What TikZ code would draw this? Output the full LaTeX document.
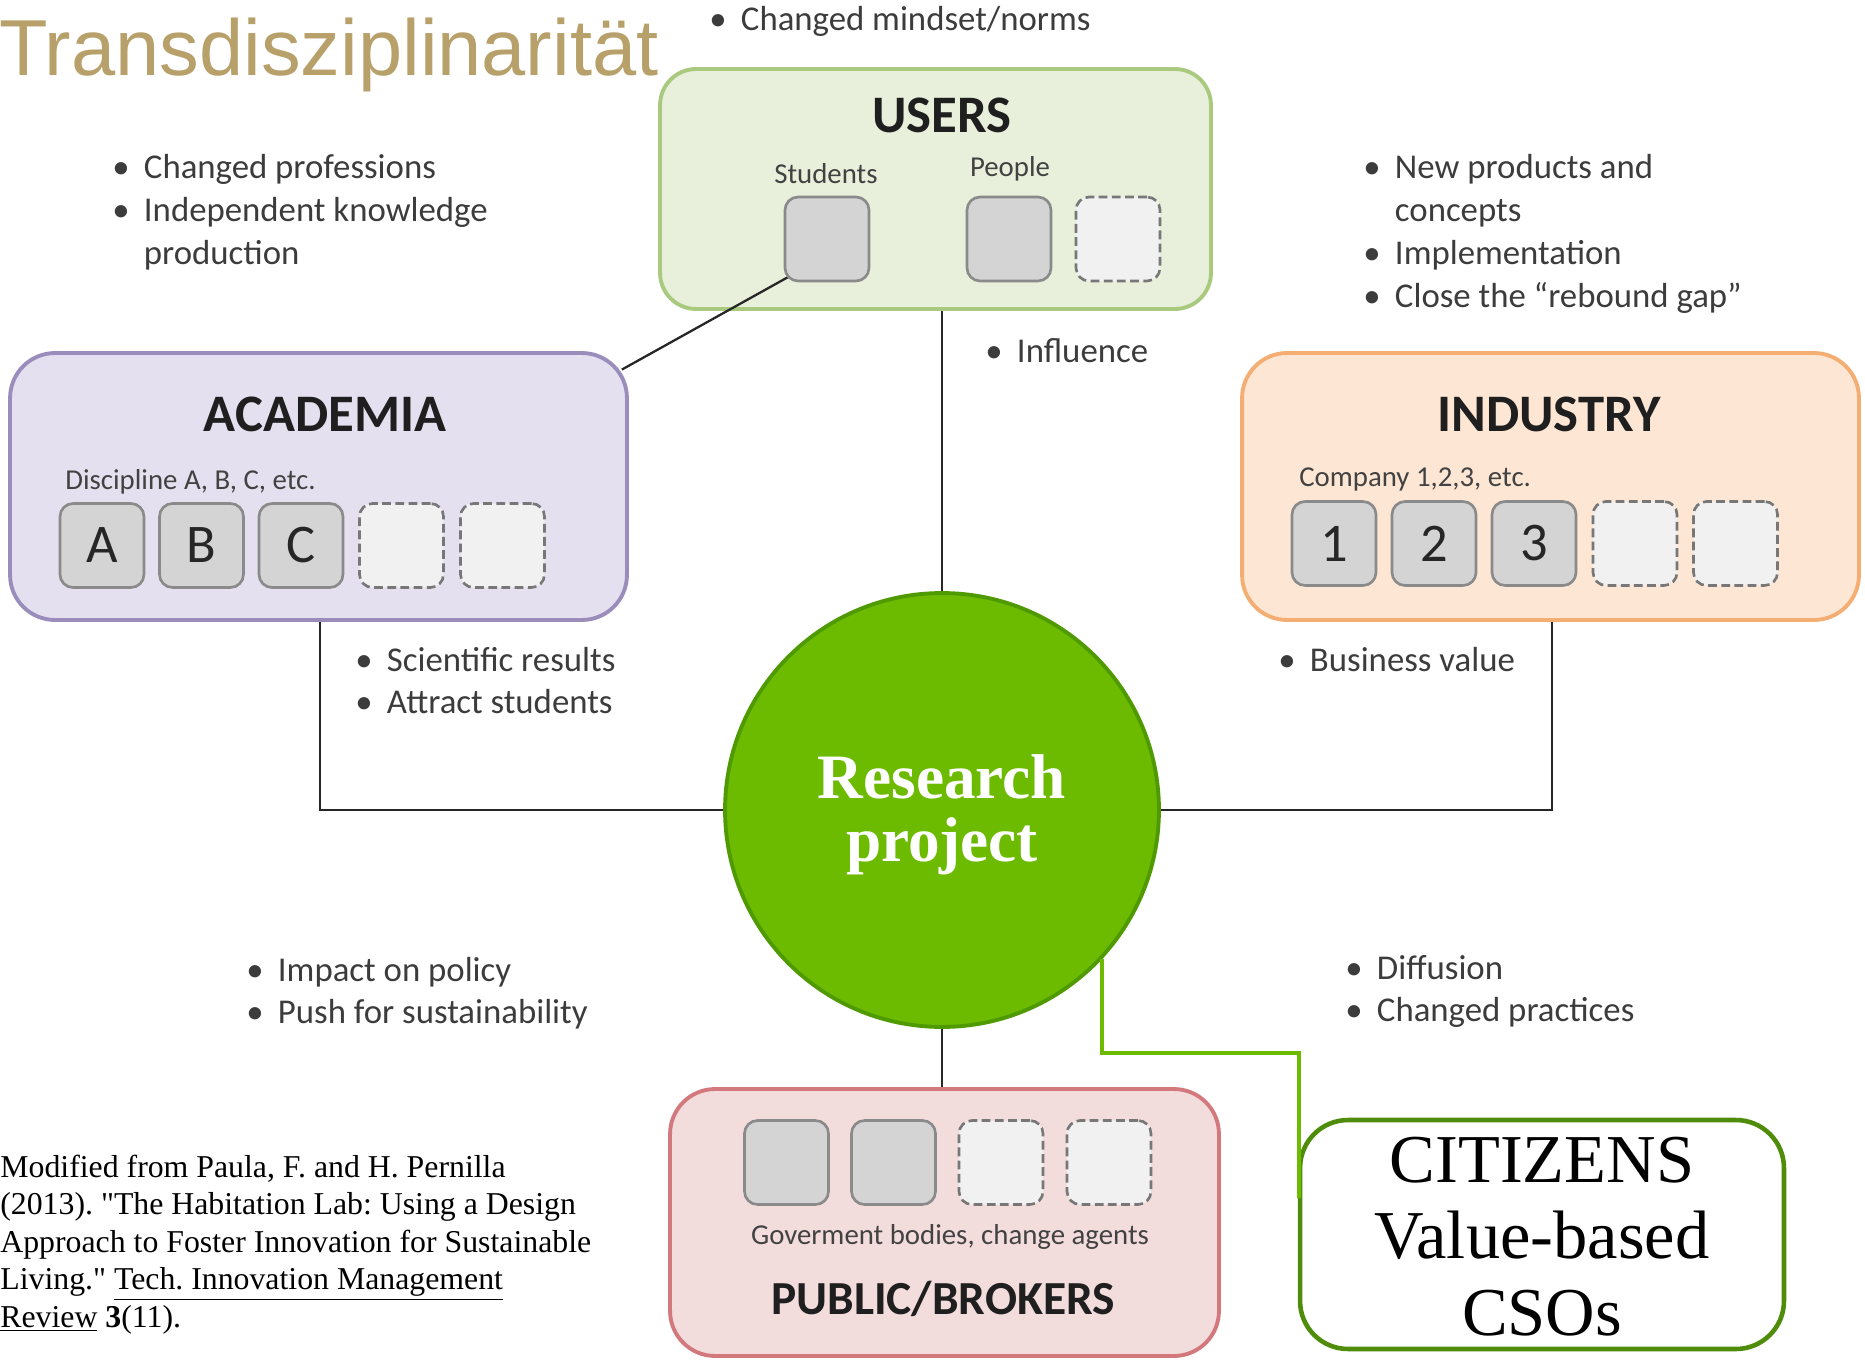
\documentclass[tikz,border=0pt]{standalone}
\usepackage{fontspec}
\setmainfont{Liberation Serif}
\newfontfamily\calfont{Carlito}
\newfontfamily\arialfont{Liberation Sans}
\newfontfamily\citefont{Liberation Serif}[Ligatures=TeXOff]
\definecolor{titlegold}{HTML}{B8A06A}
\definecolor{usfill}{HTML}{E8EFDA}
\definecolor{usdraw}{HTML}{A9C97E}
\definecolor{acfill}{HTML}{E5E0EF}
\definecolor{acdraw}{HTML}{9B8DBB}
\definecolor{infill}{HTML}{FDE6D3}
\definecolor{indraw}{HTML}{F4AE73}
\definecolor{pbfill}{HTML}{F3DCDC}
\definecolor{pbdraw}{HTML}{D3787D}
\definecolor{sqfill}{HTML}{D4D4D4}
\definecolor{sqdraw}{HTML}{8A8A8A}
\definecolor{dsqfill}{HTML}{F1F1F1}
\definecolor{dsqdraw}{HTML}{777777}
\definecolor{circfill}{HTML}{6CBB00}
\definecolor{circdraw}{HTML}{4F9A00}
\definecolor{citdraw}{HTML}{4E8C0A}
\definecolor{bultext}{HTML}{3C3C3C}
\definecolor{lbltext}{HTML}{424242}
\definecolor{linegray}{HTML}{262626}
\newcommand\bitem[1]{\makebox[18pt][l]{\textbullet}#1}
\newcommand\bcont[1]{\hspace*{18pt}#1}
\begin{document}
\begin{tikzpicture}[x=0.02cm,y=-0.02cm,
  bigbox/.style={draw, line width=2.2pt, rounded corners=0.9cm, inner sep=0pt},
  sq/.style={draw=sqdraw, fill=sqfill, line width=1.5pt, rounded corners=0.26cm, minimum size=1.68cm, inner sep=0pt, text=black!85, font=\calfont\fontsize{31}{31}\selectfont},
  dsq/.style={sq, draw=dsqdraw, fill=dsqfill, dash pattern=on 5pt off 2.5pt},
  conn/.style={draw=linegray, line width=1.6pt},
  gline/.style={draw=circfill, line width=2.5pt},
  bul/.style={anchor=base west, inner sep=0pt, text=bultext, font=\calfont\fontsize{19.8}{24.4}\selectfont},
  lbl/.style={anchor=base, inner sep=0pt, text=lbltext, font=\calfont\fontsize{16.4}{18}\selectfont},
  hdr/.style={anchor=base, inner sep=0pt, text=black!88, font=\calfont\bfseries\fontsize{30}{34}\selectfont}
]
\fill[white] (0,0) rectangle (1865,1361);
\useasboundingbox (0,0) rectangle (1865,1361);

% title
\node[anchor=base west, inner sep=0pt, text=titlegold, font=\arialfont\fontsize{45.2}{50}\selectfont] (title) at (-1,76) {Transdisziplinarität};

% big boxes
\node[bigbox, draw=usdraw, fill=usfill, rounded corners=0.72cm, minimum width=11.02cm, minimum height=4.8cm] (users) at (935.5,189) {};
\node[bigbox, draw=acdraw, fill=acfill, minimum width=12.34cm, minimum height=5.34cm] (acad) at (318.5,486.5) {};
\node[bigbox, draw=indraw, fill=infill, minimum width=12.34cm, minimum height=5.34cm] (ind) at (1550.5,486.5) {};
\node[bigbox, draw=pbdraw, fill=pbfill, minimum width=10.98cm, minimum height=5.34cm] (pub) at (944.5,1222.5) {};

% headers
\node[hdr] (husers) at (942,133) {USERS};
\node[hdr] (hacad) at (325,432) {ACADEMIA};
\node[hdr] (hind) at (1549,432) {INDUSTRY};
\node[hdr, font=\calfont\bfseries\fontsize{27}{30}\selectfont] (hpub) at (943,1314) {PUBLIC/BROKERS};

% small labels
\node[lbl] (lstud) at (826,184) {Students};
\node[lbl] (lpeop) at (1010,177) {People};
\node[lbl, anchor=base west] (ldisc) at (65,489) {Discipline A, B, C, etc.};
\node[lbl, anchor=base west] (lcomp) at (1299,486) {Company 1,2,3, etc.};
\node[lbl] (lgov) at (950,1244) {Goverment bodies, change agents};

% connector students -> academia (under the squares)
\coordinate (acadc) at ([xshift=-0.14cm,yshift=-0.37cm]acad.north east);
\coordinate (studc) at (790,276);
\draw[conn, line width=1.3pt] (studc) -- (acadc);
\node[sq] (stud) at (827,239) {};
\node[sq] (peop) at (1009,239) {};
\node[dsq] (udash) at (1118,239) {};

% academia squares
\node[sq] (sa) at (102,545.5) {A};
\node[sq] (sb) at (201.5,545.5) {B};
\node[sq] (sc) at (301,545.5) {C};
\node[dsq] (sd) at (401.5,545.5) {};
\node[dsq] (se) at (502.5,545.5) {};

% industry squares
\node[sq] (s1) at (1334,543.5) {1};
\node[sq] (s2) at (1434,543.5) {2};
\node[sq] (s3) at (1534,543.5) {3};
\node[dsq] (s4) at (1635,543.5) {};
\node[dsq] (s5) at (1735.5,543.5) {};

% public squares
\node[sq] (p1) at (786.5,1162.5) {};
\node[sq] (p2) at (893.5,1162.5) {};
\node[dsq] (p3) at (1001,1162.5) {};
\node[dsq] (p4) at (1109,1162.5) {};

% centre circle
\node[circle, fill=circfill, draw=circdraw, line width=2.2pt, minimum size=8.68cm, inner sep=0pt] (circ) at (942,810) {};
\node[anchor=base, inner sep=0pt, text=white, font=\fontsize{36}{36.3}\selectfont\bfseries] (rp) at (942,798) {\begin{tabular}[t]{@{}c@{}}Research\\project\end{tabular}};

% connectors
\draw[conn] (circ.north) -- (circ.north |- users.south);
\draw[conn] (acad.south -| 320,0) |- (circ.west);
\draw[conn] (ind.south -| 1552,0) |- (circ.east);
\draw[conn] (circ.south) -- (circ.south |- pub.north);

% citizens
\node[draw=citdraw, fill=white, line width=2.6pt, rounded corners=0.96cm, minimum width=9.68cm, minimum height=4.58cm, inner sep=0pt] (cit) at (1542,1234.5) {};
\node[anchor=base, inner sep=0pt, font=\fontsize{39}{43.7}\selectfont] (cittxt) at (1542,1182) {\begin{tabular}[t]{@{}c@{}}CITIZENS\\Value-based\\CSOs\end{tabular}};
\coordinate (gm) at (1299,1053);
\coordinate (gend) at (1299,1198);
\draw[gline] (circ.-43.3) |- (gm) -- (gend);

% bullet texts
\node[bul] (tmind) at (709,31) {\bitem{Changed mindset/norms}};
\node[bul] (tprof) at (112,179) {\begin{tabular}[t]{@{}l@{}}\bitem{Changed professions}\\\bitem{Independent knowledge}\\\bcont{production}\end{tabular}};
\node[bul] (tnew) at (1363,179) {\begin{tabular}[t]{@{}l@{}}\bitem{New products and}\\\bcont{concepts}\\\bitem{Implementation}\\\bitem{Close the “rebound gap”}\end{tabular}};
\node[bul] (tinfl) at (985,363) {\bitem{Influence}};
\node[bul] (tsci) at (355,671) {\begin{tabular}[t]{@{}l@{}}\bitem{Scientific results}\\\bitem{Attract students}\end{tabular}};
\node[bul] (tbus) at (1278,671) {\bitem{Business value}};
\node[bul] (timp) at (246,981) {\begin{tabular}[t]{@{}l@{}}\bitem{Impact on policy}\\\bitem{Push for sustainability}\end{tabular}};
\node[bul] (tdif) at (1345,979) {\begin{tabular}[t]{@{}l@{}}\bitem{Diffusion}\\\bitem{Changed practices}\end{tabular}};

% citation
\node[anchor=base west, inner sep=0pt, font=\citefont\frenchspacing\fontsize{18.1}{21.4}\selectfont] (cite) at (0,1177) {\begin{tabular}[t]{@{}l@{}}Modified from Paula, F. and H. Pernilla\\(2013). "The Habitation Lab: Using a Design\\Approach to Foster Innovation for Sustainable\\Living." \underline{Tech. Innovation Management}\\\underline{Review} \textbf{3}(11).\end{tabular}};
\end{tikzpicture}
\end{document}
